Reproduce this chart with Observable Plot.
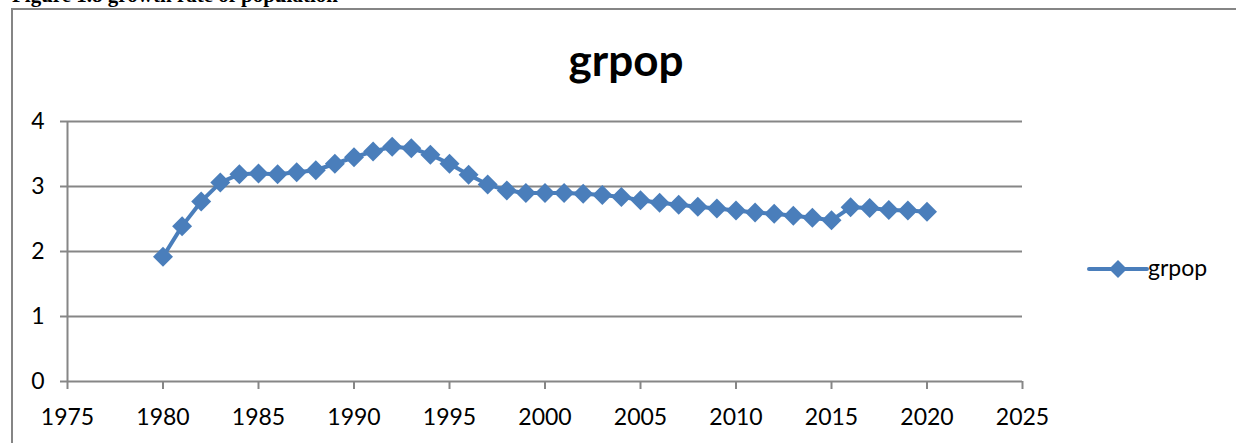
<!DOCTYPE html>
<html>
<head>
<meta charset="utf-8">
<script src="https://cdn.jsdelivr.net/npm/d3@7"></script>
<script src="https://cdn.jsdelivr.net/npm/@observablehq/plot@0.6"></script>
<style>
  html, body { margin: 0; padding: 0; background: #fff; }
  #wrap { position: relative; width: 1236px; height: 443px; overflow: hidden; background: #fff; }
  #frame { position: absolute; left: 11px; top: 8px; width: 1300px; height: 500px;
           border-left: 2px solid #858585; border-top: 2px solid #858585; }
  #caption { position: absolute; left: 12px; top: -15px; font-family: "Liberation Serif", serif;
             font-weight: bold; font-size: 21px; line-height: 1; color: #000; white-space: nowrap; }
  #title { position: absolute; left: 0; width: 1252px; text-align: center; top: 37px;
           font-family: Lato, sans-serif; font-weight: bold; font-size: 44px; line-height: 1; color: #000; }
  #chart { position: absolute; left: 0; top: 0; }
  #legend { position: absolute; left: 1080px; top: 250px; }
</style>
</head>
<body>
<div id="wrap">
  <div id="frame"></div>
  <div id="caption">Figure 1.8 growth rate of population</div>
  <div id="chart"></div>
  <div id="title">grpop</div>
  <div id="legend"></div>
</div>
<script>
const seriesName = "grpop";
const years = [1980,1981,1982,1983,1984,1985,1986,1987,1988,1989,
               1990,1991,1992,1993,1994,1995,1996,1997,1998,1999,
               2000,2001,2002,2003,2004,2005,2006,2007,2008,2009,
               2010,2011,2012,2013,2014,2015,2016,2017,2018,2019,2020];
const grpop = [1.92,2.39,2.77,3.06,3.19,3.20,3.19,3.22,3.25,3.35,
               3.45,3.54,3.61,3.59,3.49,3.35,3.18,3.03,2.94,2.90,
               2.90,2.90,2.89,2.87,2.84,2.79,2.75,2.72,2.69,2.66,
               2.63,2.60,2.58,2.55,2.52,2.48,2.68,2.67,2.64,2.63,2.61];
const xTicks = [1975,1980,1985,1990,1995,2000,2005,2010,2015,2020,2025];
const yTicks = [0,1,2,3,4];

const data = years.map((year, i) => ({year, value: grpop[i]}));
const blue = "#4a7ebb";
const gray = "#868686";
const font = "Lato, sans-serif";

const plot = Plot.plot({
  width: 1236,
  height: 443,
  marginLeft: 67,
  marginRight: 214,
  marginTop: 121,
  marginBottom: 62,
  style: { background: "transparent", fontFamily: font, color: "#000" },
  x: { domain: [1975, 2025] },
  y: { domain: [0, 4] },
  marks: [
    Plot.gridY(yTicks.filter(d => d > 0), { stroke: gray, strokeOpacity: 1, strokeWidth: 2 }),
    Plot.ruleX([1975], { stroke: gray, strokeWidth: 2 }),
    Plot.ruleY([0], { stroke: gray, strokeWidth: 2 }),
    Plot.axisY(yTicks, { tickSize: 7, tickPadding: 16, stroke: gray, strokeWidth: 2, fill: "#000",
                         fontSize: 23, tickFormat: d => String(d), label: null }),
    Plot.axisX(xTicks, { tickSize: 8, tickPadding: 19, stroke: gray, strokeWidth: 2, fill: "#000",
                         fontSize: 23, tickFormat: d => String(d), label: null }),
    Plot.line(data, { x: "year", y: "value", stroke: blue, strokeWidth: 4 }),
    Plot.dot(data, { x: "year", y: "value", symbol: "diamond2", r: 9, fill: blue, stroke: "none" })
  ]
});
document.getElementById("chart").appendChild(plot);

// legend
const ns = "http://www.w3.org/2000/svg";
const lg = document.createElementNS(ns, "svg");
lg.setAttribute("width", 150);
lg.setAttribute("height", 40);
lg.innerHTML = `
  <line x1="9" y1="19" x2="67" y2="19" stroke="${blue}" stroke-width="4" stroke-linecap="round"/>
  <path d="M38,10 L47,19 L38,28 L29,19 Z" fill="${blue}"/>
  <text x="68" y="25.5" font-family="${font}" font-size="23" fill="#000">${seriesName}</text>`;
document.getElementById("legend").appendChild(lg);
</script>
</body>
</html>
